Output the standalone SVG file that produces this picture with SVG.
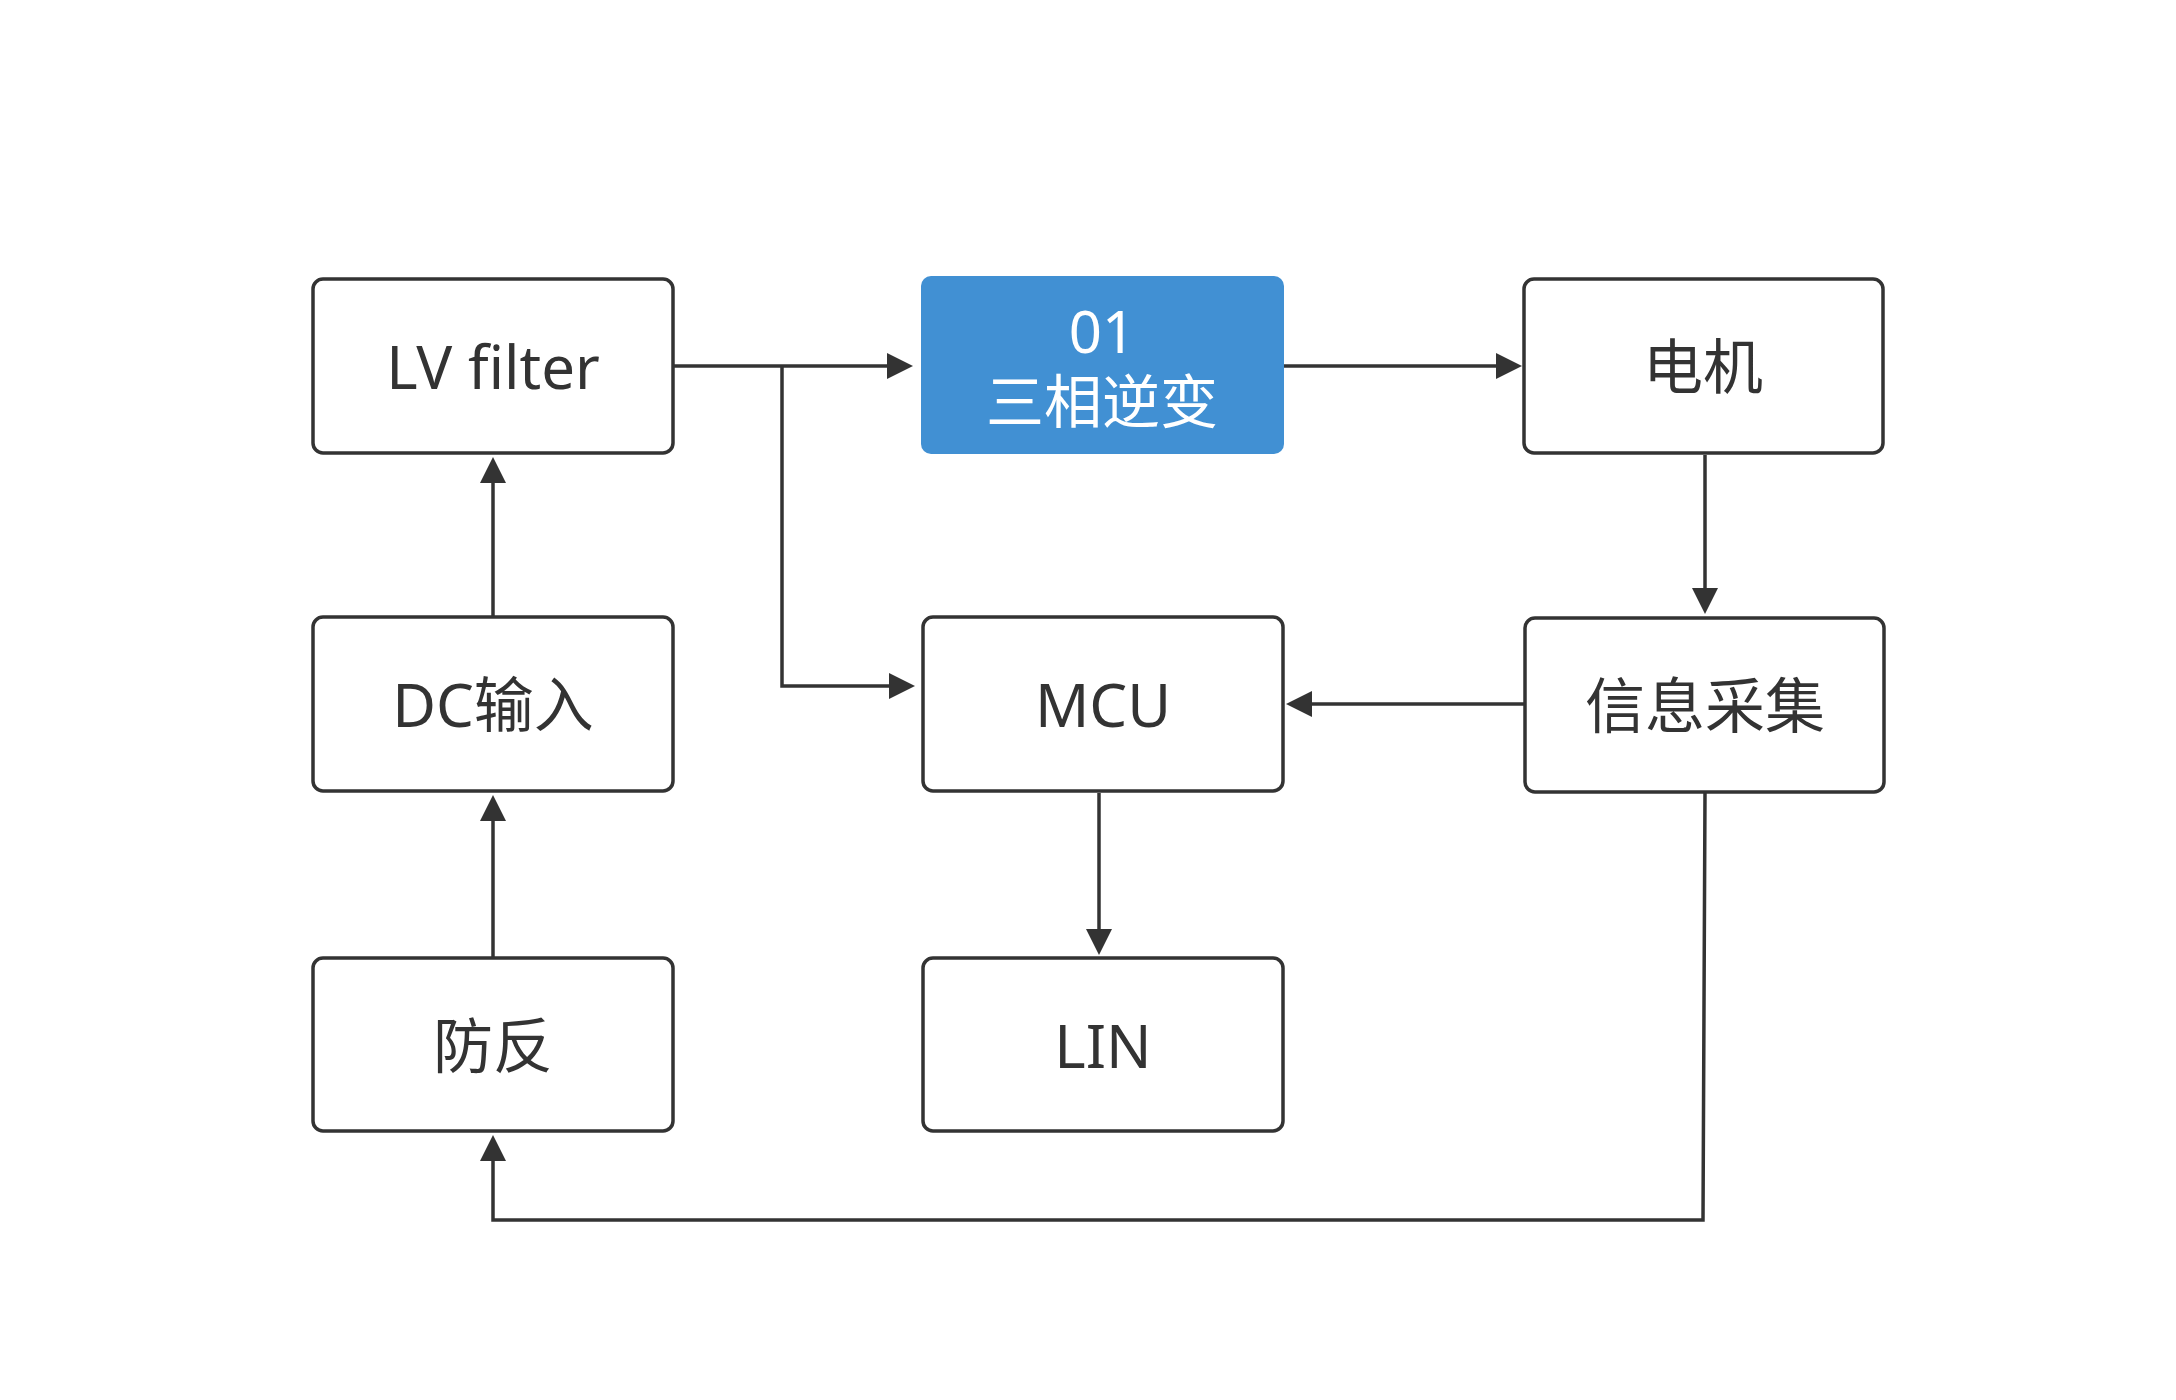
<svg xmlns="http://www.w3.org/2000/svg" width="2176" height="1400" viewBox="0 0 2176 1400">
<defs>
<style>
.b{fill:#fff;stroke:#333;stroke-width:3.5}
.t{font-family:"Noto Sans","Noto Sans CJK SC",sans-serif;font-size:60px;fill:#333;text-anchor:middle;dominant-baseline:central}
.c{fill:none;stroke:#333;stroke-width:3.5}
</style>
</defs>
<rect width="2176" height="1400" fill="#fff"/>
<g id="connectors">
<path class="c" d="M673,366H890"/>
<path d="M887,353L913,366L887,379z" fill="#333"/>
<path class="c" d="M782,366V686H890"/><path d="M889,673L915,686L889,699z" fill="#333"/>
<path class="c" d="M1284,366H1498"/><path d="M1496,353L1522,366L1496,379z" fill="#333"/>
<path class="c" d="M1705,455V590"/><path d="M1692,588L1705,614L1718,588z" fill="#333"/>
<path class="c" d="M1525,704H1310"/><path d="M1312,691L1286,704L1312,717z" fill="#333"/>
<path class="c" d="M1099,793V931"/><path d="M1086,929L1099,955L1112,929z" fill="#333"/>
<path class="c" d="M1705,792L1703,1220H493V1159"/><path d="M480,1161L493,1135L506,1161z" fill="#333"/>
<path class="c" d="M493,958V819"/><path d="M480,821L493,795L506,821z" fill="#333"/>
<path class="c" d="M493,617V481"/><path d="M480,483L493,457L506,483z" fill="#333"/>
</g>
<g id="lv"><rect class="b" x="313" y="279" width="360" height="174" rx="10"/><text class="t" x="493" y="366">LV filter</text></g>
<g id="inv"><rect x="921" y="276" width="363" height="178" rx="10" fill="#4190d3"/><text class="t" x="1102" y="330" style="fill:#fff;font-size:58px">01</text><text class="t" x="1102" y="400" style="fill:#fff;font-size:58px">三相逆变</text></g>
<g id="motor"><rect class="b" x="1524" y="279" width="359" height="174" rx="10"/><text class="t" x="1703" y="366">电机</text></g>
<g id="dc"><rect class="b" x="313" y="617" width="360" height="174" rx="10"/><text class="t" x="493" y="704">DC输入</text></g>
<g id="mcu"><rect class="b" x="923" y="617" width="360" height="174" rx="10"/><text class="t" x="1103" y="704">MCU</text></g>
<g id="info"><rect class="b" x="1525" y="618" width="359" height="174" rx="10"/><text class="t" x="1705" y="705">信息采集</text></g>
<g id="fanfan"><rect class="b" x="313" y="958" width="360" height="173" rx="10"/><text class="t" x="493" y="1045">防反</text></g>
<g id="lin"><rect class="b" x="923" y="958" width="360" height="173" rx="10"/><text class="t" x="1103" y="1045">LIN</text></g>
</svg>
